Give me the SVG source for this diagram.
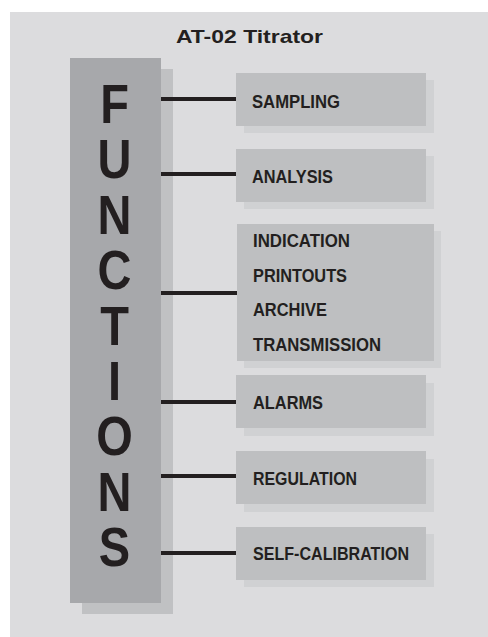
<svg xmlns="http://www.w3.org/2000/svg" width="488" height="637" viewBox="0 0 488 637">
<style>
.lbl{font-family:"Liberation Sans",Arial,sans-serif;font-weight:bold;font-size:19px;fill:#231f20}
.big{font-family:"Liberation Sans",Arial,sans-serif;font-weight:bold;font-size:56px;fill:#231f20;text-anchor:middle}
.box{fill:#bebfc1}
.sh{fill:#d0d1d3}
.con{stroke:#231f20;stroke-width:4;fill:none}
</style>
<rect x="0" y="0" width="488" height="637" fill="#ffffff"/>
<rect x="10" y="12" width="478" height="625" fill="#dcdcde"/>
<text class="lbl" x="176" y="43" textLength="147" lengthAdjust="spacingAndGlyphs">AT-02 Titrator</text>
<g id="functions">
<rect x="82" y="69" width="91" height="545" fill="#c0c1c3"/>
<rect x="70" y="58" width="91" height="545" fill="#a7a8ab"/>
<g transform="translate(114.5,0) scale(0.84,1)">
<text class="big" x="0" y="123">F<tspan x="0" dy="55.4">U</tspan><tspan x="0" dy="55.4">N</tspan><tspan x="0" dy="55.4">C</tspan><tspan x="0" dy="55.4">T</tspan><tspan x="0" dy="55.4">I</tspan><tspan x="0" dy="55.4">O</tspan><tspan x="0" dy="55.4">N</tspan><tspan x="0" dy="55.4">S</tspan></text>
</g>
</g>
<g id="connectors">
<line class="con" x1="161" y1="99" x2="237" y2="99"/>
<line class="con" x1="161" y1="174" x2="237" y2="174"/>
<line class="con" x1="161" y1="293" x2="238" y2="293"/>
<line class="con" x1="161" y1="402" x2="237" y2="402"/>
<line class="con" x1="161" y1="476" x2="237" y2="476"/>
<line class="con" x1="161" y1="553" x2="237" y2="553"/>
</g>
<g id="sampling">
<rect class="sh" x="244" y="80" width="190" height="53"/>
<rect class="box" x="236" y="73" width="190" height="53"/>
<text class="lbl" x="252" y="108" textLength="88" lengthAdjust="spacingAndGlyphs">SAMPLING</text>
</g>
<g id="analysis">
<rect class="sh" x="244" y="156" width="190" height="53"/>
<rect class="box" x="236" y="149" width="190" height="53"/>
<text class="lbl" x="252" y="183" textLength="81" lengthAdjust="spacingAndGlyphs">ANALYSIS</text>
</g>
<g id="output">
<rect class="sh" x="244" y="231" width="197" height="137"/>
<rect class="box" x="237" y="224" width="197" height="137"/>
<text class="lbl" x="253" y="247" textLength="97" lengthAdjust="spacingAndGlyphs">INDICATION</text>
<text class="lbl" x="253" y="282" textLength="94" lengthAdjust="spacingAndGlyphs">PRINTOUTS</text>
<text class="lbl" x="253" y="316" textLength="74" lengthAdjust="spacingAndGlyphs">ARCHIVE</text>
<text class="lbl" x="253" y="351" textLength="128" lengthAdjust="spacingAndGlyphs">TRANSMISSION</text>
</g>
<g id="alarms">
<rect class="sh" x="244" y="383" width="190" height="53"/>
<rect class="box" x="236" y="375" width="190" height="53"/>
<text class="lbl" x="253" y="409" textLength="70" lengthAdjust="spacingAndGlyphs">ALARMS</text>
</g>
<g id="regulation">
<rect class="sh" x="244" y="459" width="190" height="53"/>
<rect class="box" x="236" y="451" width="190" height="53"/>
<text class="lbl" x="253" y="485" textLength="104" lengthAdjust="spacingAndGlyphs">REGULATION</text>
</g>
<g id="selfcal">
<rect class="sh" x="244" y="534" width="190" height="53"/>
<rect class="box" x="236" y="527" width="190" height="53"/>
<text class="lbl" x="253" y="560" textLength="156" lengthAdjust="spacingAndGlyphs">SELF-CALIBRATION</text>
</g>
</svg>
